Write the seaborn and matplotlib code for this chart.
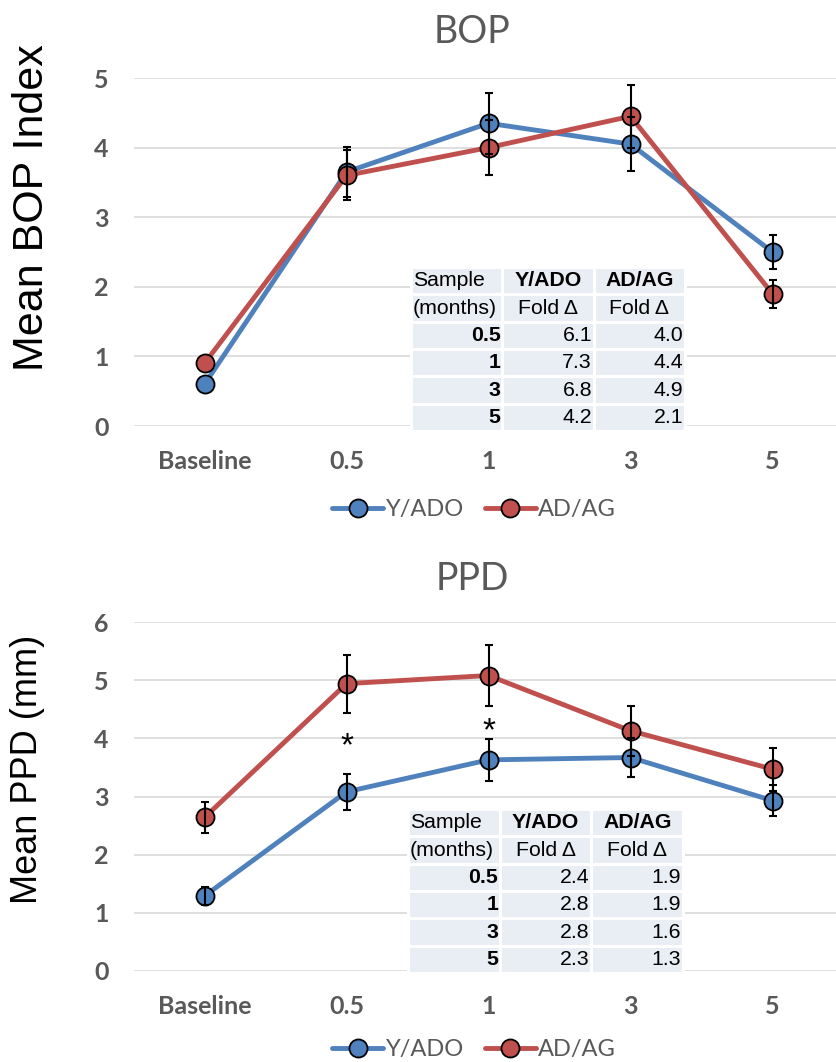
import matplotlib
matplotlib.use("Agg")
import matplotlib.pyplot as plt
from matplotlib.lines import Line2D
import numpy as np
import pandas as pd
import seaborn as sns

# ---- data -------------------------------------------------------------
timepoints = ["Baseline", "0.5", "1", "3", "5"]
groups = ["Y/ADO", "AD/AG"]

bop_yado = [0.60, 3.65, 4.35, 4.05, 2.50]
bop_adag = [0.90, 3.60, 4.00, 4.45, 1.90]
bop_yado_err = [np.nan, 0.36, 0.44, 0.39, 0.25]
bop_adag_err = [np.nan, 0.36, 0.40, 0.45, 0.20]

ppd_yado = [1.29, 3.08, 3.63, 3.67, 2.93]
ppd_adag = [2.64, 4.94, 5.08, 4.13, 3.47]
ppd_yado_err = [0.15, 0.31, 0.36, 0.33, 0.26]
ppd_adag_err = [0.26, 0.50, 0.52, 0.43, 0.37]

# significance markers on the PPD panel: (timepoint index, y)
ppd_sig_pos = [1, 2]
ppd_sig_y = [3.85, 4.12]

table_months = ["0.5", "1", "3", "5"]
bop_fold_yado = ["6.1", "7.3", "6.8", "4.2"]
bop_fold_adag = ["4.0", "4.4", "4.9", "2.1"]
ppd_fold_yado = ["2.4", "2.8", "2.8", "2.3"]
ppd_fold_adag = ["1.9", "1.9", "1.6", "1.3"]

# ---- style ------------------------------------------------------------
sns.set_theme(style="white")
plt.rcParams["font.family"] = ["Lato", "DejaVu Sans"]

BLUE = "#4F81BD"
RED = "#C0504D"
GREY = "#595959"
GRID = "#D9D9D9"
CELL = "#E9EDF4"
palette = {"Y/ADO": BLUE, "AD/AG": RED}

W, H = 836, 1062
fig = plt.figure(figsize=(W / 100, H / 100), dpi=100)

ax_left = 133.5 / W
ax_width = 710 / W
ax_bop = fig.add_axes([ax_left, 1 - 426 / H, ax_width, 348 / H])
ax_ppd = fig.add_axes([ax_left, 1 - 971 / H, ax_width, 349 / H])


def draw_panel(ax, yado, adag, yado_err, adag_err, ymax, title, title_y,
               fold_yado, fold_adag, tbl_box, legend_y):
    pos = np.arange(len(timepoints))
    df = pd.DataFrame({
        "pos": np.concatenate([pos, pos]),
        "value": yado + adag,
        "group": [groups[0]] * len(pos) + [groups[1]] * len(pos),
    })
    sns.lineplot(data=df, x="pos", y="value", hue="group", hue_order=groups,
                 palette=palette, marker="o", markersize=13,
                 markeredgecolor="black", markeredgewidth=1.3,
                 linewidth=3.5, legend=False, ax=ax, zorder=3)
    for vals, errs in ((yado, yado_err), (adag, adag_err)):
        ax.errorbar(pos, vals, yerr=errs, fmt="none", ecolor="black",
                    elinewidth=1.5, capsize=3.2, capthick=1.5, zorder=4)

    ax.set_xlim(-0.5, len(timepoints) - 0.5)
    ax.set_ylim(0, ymax)
    ax.set_yticks(range(0, ymax + 1))
    ax.set_xticks(pos)
    ax.set_xticklabels(timepoints)
    ax.set_xlabel("")
    ax.set_ylabel("")
    ax.yaxis.grid(True, color=GRID, linewidth=1.2)
    ax.set_axisbelow(True)
    for s in ax.spines.values():
        s.set_visible(False)
    ax.tick_params(axis="both", length=0, labelcolor=GREY, labelsize=18)
    ax.tick_params(axis="y", pad=18)
    ax.tick_params(axis="x", pad=17)
    for lab in ax.get_xticklabels() + ax.get_yticklabels():
        lab.set_fontweight("bold")

    ax.text(0.477, title_y, title, transform=ax.transAxes, ha="center",
            va="baseline", fontsize=27, color=GREY)

    # fold-change table
    cells = [["Sample", "Y/ADO", "AD/AG"],
             ["(months)", "Fold \u0394", "Fold \u0394"]]
    for m, a, b in zip(table_months, fold_yado, fold_adag):
        cells.append([m, a, b])
    tbl = ax.table(cellText=cells, bbox=tbl_box, cellLoc="right")
    tbl.auto_set_font_size(False)
    tbl.set_zorder(5)
    for (r, c), cell in tbl.get_celld().items():
        cell.set_facecolor(CELL)
        cell.set_edgecolor("white")
        cell.set_linewidth(2.2)
        cell.PAD = 0.02
        txt = cell.get_text()
        txt.set_fontfamily(["Liberation Sans", "DejaVu Sans"])
        txt.set_fontsize(15.3)
        txt.set_color("black")
        if r < 2:
            cell._loc = "left" if c == 0 else "center"
            txt.set_ha(cell._loc)
            if r == 0 and c > 0:
                txt.set_fontweight("bold")
        else:
            if c == 0:
                txt.set_fontweight("bold")

    handles = [Line2D([], [], color=palette[g], lw=3.5, marker="o",
                      markersize=13, markeredgecolor="black",
                      markeredgewidth=1.3) for g in groups]
    leg = ax.legend(handles, groups, loc="center",
                    bbox_to_anchor=(0.480, legend_y), ncol=2, frameon=False,
                    fontsize=17, handlelength=2.15, handletextpad=0.1,
                    columnspacing=0.9)
    for t in leg.get_texts():
        t.set_color(GREY)


draw_panel(ax_bop, bop_yado, bop_adag, bop_yado_err, bop_adag_err, 5,
           "BOP", 1.10, bop_fold_yado, bop_fold_adag,
           [0.391, -0.0144, 0.386, 0.471], -0.241)
draw_panel(ax_ppd, ppd_yado, ppd_adag, ppd_yado_err, ppd_adag_err, 6,
           "PPD", 1.092, ppd_fold_yado, ppd_fold_adag,
           [0.387, -0.006, 0.387, 0.47], -0.226)

for p, y in zip(ppd_sig_pos, ppd_sig_y):
    ax_ppd.text(p, y, "*", ha="center", va="center", fontsize=24,
                color="black", family=["Liberation Sans", "DejaVu Sans"],
                zorder=6)

ylabel_font = ["Liberation Sans", "DejaVu Sans"]
fig.text(32 / W, 1 - 208 / H, "Mean BOP Index", rotation=90, ha="center",
         va="center", fontsize=31, color="black", family=ylabel_font)
fig.text(28 / W, 1 - 769 / H, "Mean PPD (mm)", rotation=90, ha="center",
         va="center", fontsize=26, color="black", family=ylabel_font)

fig.savefig("out.png", dpi=100)
